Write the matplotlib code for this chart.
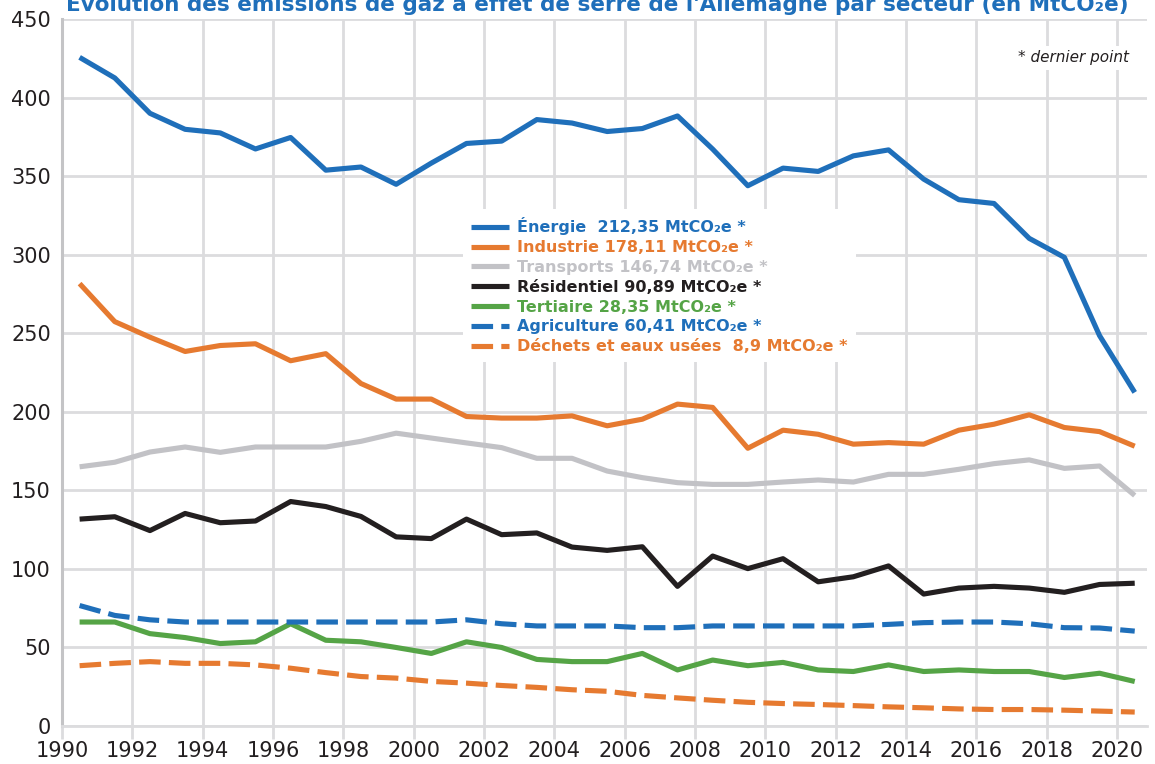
import matplotlib
matplotlib.use("Agg")
import matplotlib.pyplot as plt
import numpy as np

years = np.arange(1990, 2021)

energie = [425.6, 412.5, 390.0, 379.8, 377.5, 367.3, 374.6, 353.8, 355.8, 344.8,
           358.3, 370.8, 372.3, 386.0, 383.8, 378.4, 380.3, 388.3, 367.2, 343.9,
           355.1, 353.0, 362.9, 366.7, 348.1, 335.0, 332.6, 310.4, 298.3, 248.5, 212.35]
industrie = [281.6, 257.4, 247.5, 238.4, 242.2, 243.3, 232.5, 237.0, 218.0, 208.1,
             208.1, 197.0, 196.0, 196.0, 197.4, 191.1, 195.3, 204.9, 202.8, 176.8,
             188.3, 185.7, 179.4, 180.4, 179.4, 188.3, 192.1, 198.1, 190.0, 187.4, 178.11]
transports = [165.0, 167.9, 174.4, 177.6, 174.2, 177.6, 177.6, 177.6, 181.2, 186.4,
              183.3, 180.2, 177.2, 170.4, 170.4, 162.3, 158.1, 154.9, 153.8, 153.8,
              155.3, 156.6, 155.3, 160.2, 160.2, 163.4, 167.0, 169.4, 164.0, 165.5, 146.74]
residentiel = [131.7, 133.2, 124.4, 135.3, 129.4, 130.5, 142.9, 139.7, 133.4, 120.4,
               119.3, 131.7, 121.8, 122.9, 113.9, 111.8, 114.1, 88.9, 108.2, 100.2,
               106.5, 91.8, 95.0, 101.9, 84.0, 87.8, 88.9, 87.8, 85.1, 90.1, 90.89]
tertiaire = [66.2, 66.2, 58.8, 56.3, 52.5, 53.6, 65.1, 54.6, 53.6, 50.0,
             46.2, 53.6, 50.0, 42.4, 41.0, 41.0, 46.2, 35.7, 42.0, 38.4,
             40.5, 35.7, 34.7, 38.9, 34.7, 35.7, 34.7, 34.7, 30.9, 33.6, 28.35]
agriculture = [76.7, 70.4, 67.6, 66.2, 66.2, 66.2, 66.2, 66.2, 66.2, 66.2,
               66.2, 67.6, 65.1, 63.7, 63.7, 63.7, 62.6, 62.6, 63.7, 63.7,
               63.7, 63.7, 63.7, 64.7, 65.8, 66.2, 66.2, 65.1, 62.6, 62.4, 60.41]
dechets = [38.4, 39.9, 41.0, 39.9, 39.9, 38.9, 36.8, 34.0, 31.5, 30.5,
           28.4, 27.3, 25.8, 24.6, 23.1, 22.1, 19.5, 17.9, 16.4, 15.1,
           14.3, 13.7, 13.0, 12.2, 11.6, 10.9, 10.5, 10.5, 10.1, 9.5, 8.9]

BLUE = "#1f6fba"
ORANGE = "#e67a30"
GREY = "#c2c2c6"
BLACK = "#231f20"
GREEN = "#55a446"
GRID = "#dcdcde"


def fr(v):
    # French decimal comma, trailing zeros dropped
    s = f"{v:.2f}".rstrip("0").rstrip(".")
    return s.replace(".", ",")


series = [
    ("Énergie  {} MtCO₂e *", energie, BLUE, "-"),
    ("Industrie {} MtCO₂e *", industrie, ORANGE, "-"),
    ("Transports {} MtCO₂e *", transports, GREY, "-"),
    ("Résidentiel {} MtCO₂e *", residentiel, BLACK, "-"),
    ("Tertiaire {} MtCO₂e *", tertiaire, GREEN, "-"),
    ("Agriculture {} MtCO₂e *", agriculture, BLUE, "--"),
    ("Déchets et eaux usées  {} MtCO₂e *", dechets, ORANGE, "--"),
]

fig = plt.figure(figsize=(11.55, 7.64), dpi=100)
ax = fig.add_axes([0.0537, 0.0497, 0.9394, 0.9254])

# values are yearly totals, drawn at mid-year
x = years + 0.5
for label, vals, col, ls in series:
    line, = ax.plot(x, vals, color=col, lw=3.7, ls=ls,
                    label=label.format(fr(vals[-1])), solid_capstyle="butt")
    if ls == "--":
        line.set_dashes((4.2, 1.6))

ax.set_xlim(1990, 2020.85)
ax.set_ylim(0, 450)
ax.set_xticks(np.arange(1990, 2021, 2))
ax.set_yticks(np.arange(0, 451, 50))
ax.grid(True, color=GRID, lw=2)
ax.set_axisbelow(True)

for s in ["top", "right"]:
    ax.spines[s].set_visible(False)
ax.spines["left"].set_color("#c4c4c6")
ax.spines["left"].set_linewidth(2.2)
ax.spines["bottom"].set_color(GRID)
ax.spines["bottom"].set_linewidth(2)
ax.tick_params(axis="x", length=9, width=2, color=GRID, labelsize=15,
               labelcolor=BLACK, pad=2)
ax.tick_params(axis="y", length=0, labelsize=15, labelcolor=BLACK, pad=8)

leg = ax.legend(loc="upper left", bbox_to_anchor=(0.3622, 0.742),
                frameon=True, facecolor="white", edgecolor="none",
                framealpha=1, fancybox=False, labelcolor="linecolor",
                prop={"size": 11.5, "weight": "bold"}, handlelength=2.4,
                handletextpad=0.5, labelspacing=0.3, borderpad=0.5)

ax.text(0.983, 0.945, "* dernier point", transform=ax.transAxes,
        ha="right", va="center", fontsize=11, style="italic", color=BLACK,
        bbox=dict(facecolor="white", edgecolor="none", pad=3))

fig.text(0.517, 0.996, "Évolution des émissions de gaz à effet de serre de l'Allemagne "
         "par secteur (en MtCO₂e)", ha="center", va="center",
         fontsize=15.5, fontweight="bold", color=BLUE)

fig.savefig("out.png", dpi=100)
